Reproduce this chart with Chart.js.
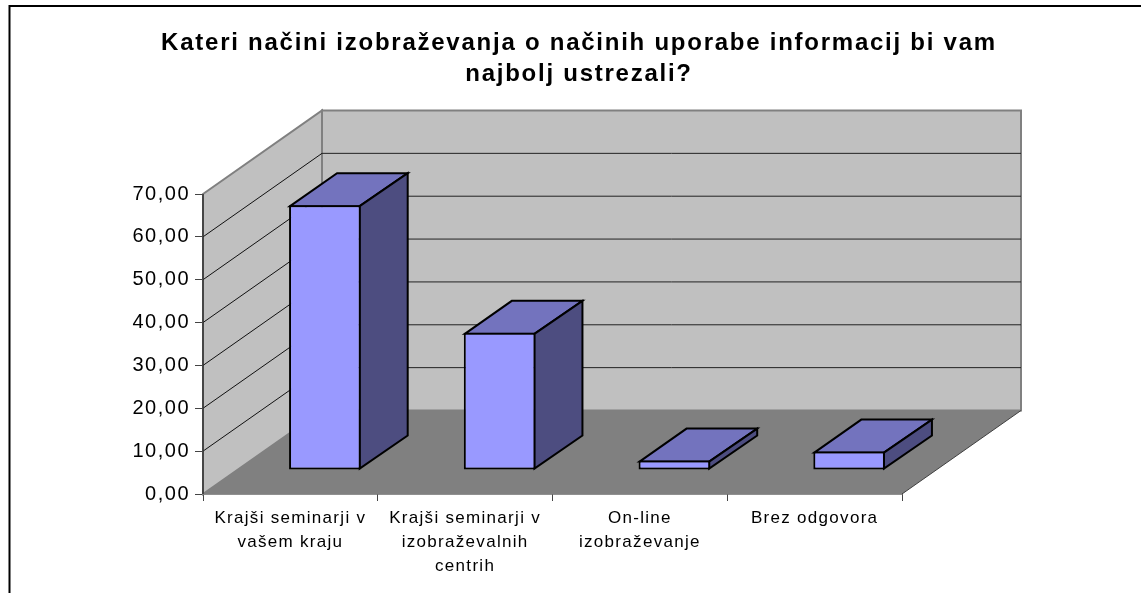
<!DOCTYPE html>
<html><head><meta charset="utf-8">
<style>html,body{margin:0;padding:0;background:#fff;overflow:hidden}#wrap{position:relative;width:1141px;height:593px}</style>
<script src="https://cdn.jsdelivr.net/npm/chart.js@4"></script>
</head><body><div id="wrap"><canvas id="c" width="1141" height="593"></canvas></div>
<script>
const categories = [
  ["Krajši seminarji v","vašem kraju"],
  ["Krajši seminarji v","izobraževalnih","centrih"],
  ["On-line","izobraževanje"],
  ["Brez odgovora"]
];
const values = [61.8, 32.0, 2.2, 4.3];
const titleLines = ["Kateri načini izobraževanja o načinih uporabe informacij bi vam","najbolj ustrezali?"];

const DX=119, DY=83.5, FX=34.5, FY=24, BX=48, BY=33;
function poly(ctx,pts,fill,stroke,lw){
  ctx.beginPath();pts.forEach((p,i)=>i?ctx.lineTo(p[0],p[1]):ctx.moveTo(p[0],p[1]));ctx.closePath();
  if(fill){ctx.fillStyle=fill;ctx.fill();}
  if(stroke){ctx.strokeStyle=stroke;ctx.lineWidth=lw;ctx.lineJoin='miter';ctx.stroke();}
}
function line(ctx,x1,y1,x2,y2,c,w){ctx.beginPath();ctx.moveTo(x1,y1);ctx.lineTo(x2,y2);ctx.strokeStyle=c;ctx.lineWidth=w;ctx.stroke();}
const scene={
  id:'scene',
  afterLayout(ch){
    if(ch.titleBlock){ch.titleBlock.left=17;ch.titleBlock.right=1141;}
  },
  beforeDraw(ch){
    const c=ch.ctx;
    c.save();
    c.fillStyle='#fff';c.fillRect(0,0,ch.width,ch.height);
    c.strokeStyle='#000';c.lineWidth=2;
    c.beginPath();c.moveTo(9.5,600);c.lineTo(9.5,6);c.lineTo(1145,6);c.stroke();
    c.restore();
    c.letterSpacing='1.75px';
  },
  beforeDatasetsDraw(ch){
    const c=ch.ctx,a=ch.chartArea,y=ch.scales.y,L=a.left,R=a.right,T=a.top,B=a.bottom;
    c.save();
    poly(c,[[L+DX,T-DY],[R+DX,T-DY],[R+DX,B-DY],[L+DX,B-DY]],'#C0C0C0','#808080',2);
    poly(c,[[L,T],[L+DX,T-DY],[L+DX,B-DY],[L,B]],'#C0C0C0','#808080',2);
    poly(c,[[L,B],[L+DX,B-DY],[R+DX,B-DY],[R,B]],'#808080');
    line(c,R,B,R+DX,B-DY,'#404040',1);
    y.ticks.forEach(t=>{
      if(t.value===0||t.value===y.max)return;
      const p=y.getPixelForValue(t.value);
      line(c,L,p,L+DX,p-DY,'#111',1);
      line(c,L+DX,p-DY,R+DX,p-DY,'#222',1);
    });
    line(c,L,T,L,B,'#333',1.5);
    const m=ch.getDatasetMeta(0);
    m.data.forEach(b=>{
      const w=b.width/2,x0=b.x-w+FX,x1=b.x+w+FX-1,yt=b.y-FY+1,yb=b.base-FY-1;
      poly(c,[[x0+1,yt],[x0+BX,yt-BY],[x1+BX,yt-BY],[x1,yt]],'#7373BE','#000',2);
      poly(c,[[x1,yt],[x1+BX,yt-BY],[x1+BX,yb-BY],[x1,yb]],'#4D4D80','#000',2);
    });
    c.translate(FX,-FY);
  },
  afterDatasetsDraw(ch){ch.ctx.restore();}
};
function spaced(s,px){
  if(s._spaced)return; s._spaced=true;
  const orig=s.drawLabels;
  s.drawLabels=function(a){const c=this.ctx,o=c.letterSpacing;c.letterSpacing=px;orig.call(this,a);c.letterSpacing=o;};
}
new Chart(document.getElementById('c'),{
  type:'bar',
  data:{labels:categories,datasets:[{data:values,backgroundColor:'#9999FF',borderColor:'#000',borderWidth:2,borderSkipped:false,barPercentage:1,categoryPercentage:0.41}]},
  plugins:[scene],
  options:{
    responsive:false,animation:false,
    layout:{padding:{left:0,right:239,top:0,bottom:0}},
    plugins:{legend:{display:false},tooltip:{enabled:false},
      title:{display:true,text:titleLines,color:'#000',fullSize:true,font:{family:'"Liberation Sans"',size:24,weight:'bold',lineHeight:1.3},padding:{top:28,bottom:103.6}}},
    scales:{
      x:{type:'category',offset:true,
        grid:{drawOnChartArea:false,drawTicks:true,tickLength:7,color:'#444',offset:true},
        border:{display:true,color:'#222',width:1.5},
        ticks:{color:'#000',maxRotation:0,minRotation:0,autoSkip:false,padding:5,font:{family:'"Liberation Sans"',size:17,lineHeight:1.41}},
        afterFit(s){s.height=99;spaced(s,'1.3px');}
      },
      y:{type:'linear',min:0,max:70,
        grid:{drawOnChartArea:false,drawTicks:true,tickLength:8,color:'#444'},
        border:{display:false},
        ticks:{stepSize:10,color:'#000',padding:5,font:{family:'"Liberation Sans"',size:20},callback:v=>v.toFixed(2).replace('.',',')},
        afterFit(s){s.width=203;spaced(s,'1.5px');}
      }
    }
  }
});
</script></body></html>
